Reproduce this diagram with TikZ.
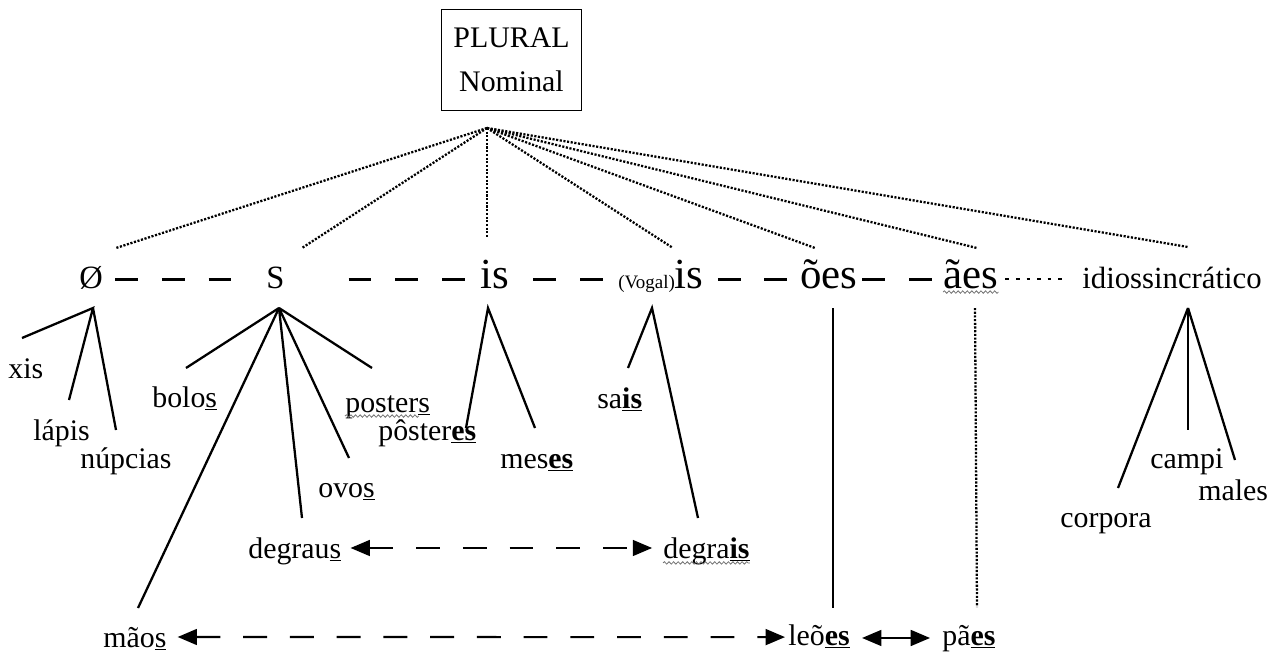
\documentclass[tikz,border=0pt]{standalone}
\usepackage{fontspec}
\setmainfont{Liberation Serif}
\usetikzlibrary{arrows.meta,decorations.pathmorphing}
\newcommand\wsmall{\fontsize{17}{20}\selectfont}
\newcommand\wbig{\fontsize{24.4}{28}\selectfont}
\newcommand\wmid{\fontsize{18.5}{22}\selectfont}
\newcommand\wvog{\fontsize{10.8}{12}\selectfont}
\newcommand\sufb[1]{\underline{\textbf{#1}}}
\newcommand\sufs[1]{\underline{#1}}
\tikzset{
  lbl/.style={inner sep=0pt, anchor=base west, font=\wsmall},
  bigl/.style={inner sep=0pt, anchor=base west, font=\wbig},
  treeline/.style={line width=1.3pt},
  dotline/.style={line width=1.3pt, dash pattern=on 1.2pt off 0.9pt},
  rowdash/.style={line width=1.7pt, dash pattern=on 13pt off 13.6pt},
  rowdot/.style={line width=1.3pt, dash pattern=on 2pt off 4pt},
  arrdash/.style={line width=1.2pt, dash pattern=on 13.6pt off 13pt,
    {Triangle[length=11pt,width=9pt]}-{Triangle[length=11pt,width=9pt]}},
  arrsolid/.style={line width=1.2pt,
    {Triangle[length=11pt,width=9pt]}-{Triangle[length=11pt,width=9pt]}},
  wavy/.style={decorate, decoration={snake, segment length=2.6pt, amplitude=0.7pt},
    line width=0.45pt, black!55},
}
\begin{document}
\begin{tikzpicture}[x=0.02cm,y=-0.02cm]
\useasboundingbox (0,0) rectangle (1277,656);

% root
\node[draw, line width=0.6pt, minimum width=80pt, minimum height=57.8pt,
  inner sep=0pt, align=center, font=\fontsize{17}{25}\selectfont]
  (plural) at (511.5,60) {PLURAL\\Nominal};
\coordinate (top) at (487,128);

% first row
\node[bigl, font=\wmid] (zero) at (79,288) {Ø};
\node[bigl, font=\wmid] (S) at (266,288) {S};
\node[bigl] (is) at (480,288) {is};
\node[bigl] (vis) at (618,288) {{\wvog(Vogal)}is};
\node[bigl] (oes) at (800,288) {ões};
\node[bigl] (aes) at (943,288) {ães};
\node[lbl, font=\fontsize{17.5}{20}\selectfont] (idio) at (1082,288) {idiossincrático};

% ends of the dotted lines from the root
\coordinate (zeroT) at (116,248);
\coordinate (ST) at (302,248);
\coordinate (isT) at (487,237);
\coordinate (visT) at (673,248);
\coordinate (oesT) at (815,248);
\coordinate (aesT) at (977,248);
\coordinate (idioT) at (1188,247);
\foreach \t in {zeroT,ST,isT,visT,oesT,aesT,idioT}
  \draw[dotline] (top) -- (\t);

% dashes between first row items
\draw[rowdash] ([xshift=6.8pt,yshift=5.1pt]zero.base east) -- ([xshift=-18.7pt,yshift=5.1pt]S.base west);
\draw[rowdash] ([xshift=36.3pt,yshift=5.1pt]S.base east) -- ([xshift=-7.9pt,yshift=5.1pt]is.base west);
\draw[rowdash] ([xshift=13.7pt,yshift=5.1pt]is.base east) -- ([xshift=-7.4pt,yshift=5.1pt]vis.base west);
\draw[rowdash] ([xshift=7.9pt,yshift=5.1pt]vis.base east) -- ([xshift=-4pt,yshift=5.1pt]oes.base west);
\draw[rowdash] ([xshift=2.6pt,yshift=5.1pt]oes.base east) -- ([xshift=-6.2pt,yshift=5.1pt]aes.base west);
\draw[rowdot] ([xshift=4pt,yshift=5.1pt]aes.base east) -- ([xshift=-8.5pt,yshift=5.1pt]idio.base west);
\draw[wavy] ([yshift=-2.3pt]aes.base west) -- ([yshift=-2.3pt]aes.base east);

% words
\node[lbl] (xis) at (8,378) {xis};
\node[lbl] (lapis) at (33,440) {lápis};
\node[lbl] (nupcias) at (80,468) {núpcias};
\node[lbl] (bolos) at (152,407) {bolo\sufs{s}};
\node[lbl] (posters) at (345,412) {poster\sufs{s}};
\node[lbl] (posteres) at (378,440) {pôster\sufb{es}};
\node[lbl] (ovos) at (318,497) {ovo\sufs{s}};
\node[lbl] (meses) at (500,468) {mes\sufb{es}};
\node[lbl] (sais) at (597,408) {sa\sufb{is}};
\node[lbl] (degraus) at (248,558) {degrau\sufs{s}};
\node[lbl] (degrais) at (663,558) {degra\sufb{is}};
\node[lbl] (maos) at (103,647) {mão\sufs{s}};
\node[lbl] (leoes) at (788,645) {leõ\sufb{es}};
\node[lbl] (paes) at (942,645) {pã\sufb{es}};
\node[lbl] (campi) at (1150,468) {campi};
\node[lbl] (males) at (1198,500) {males};
\node[lbl] (corpora) at (1060,527) {corpora};

\draw[wavy] ([yshift=-2.3pt]posters.base west) -- ([xshift=-6.6pt,yshift=-2.3pt]posters.base east);
\draw[wavy] ([yshift=-2.8pt]degrais.base west) -- ([yshift=-2.8pt]degrais.base east);

% tree under Ø
\coordinate (zeroA) at (93,308);
\coordinate (xisE) at (22,338);
\coordinate (lapisE) at (69,400);
\coordinate (nupciasE) at (116,430);
\draw[treeline] (xisE) -- (zeroA) -- (lapisE) (zeroA) -- (nupciasE);

% tree under S
\coordinate (SA) at (279,308);
\coordinate (bolosE) at (186,368);
\coordinate (maosE) at (138,608);
\coordinate (degrausE) at (302,518);
\coordinate (ovosE) at (349,458);
\coordinate (postersE) at (372,368);
\foreach \e in {bolosE,maosE,degrausE,ovosE,postersE}
  \draw[treeline] (SA) -- (\e);

% tree under is
\coordinate (isA) at (488,308);
\coordinate (posteresE) at (466,428);
\coordinate (mesesE) at (535,428);
\draw[treeline] (posteresE) -- (isA) -- (mesesE);

% tree under (Vogal)is
\coordinate (visA) at (652,308);
\coordinate (saisE) at (628,368);
\coordinate (degraisE) at (698,518);
\draw[treeline] (saisE) -- (visA) -- (degraisE);

% ões and ães
\coordinate (oesA) at (833,308);
\coordinate (leoesE) at (833,608);
\draw[line width=1.1pt] (oesA) -- (leoesE);
\coordinate (aesA) at (975,308);
\coordinate (paesE) at (977,607);
\draw[dotline] (aesA) -- (paesE);

% tree under idiossincrático
\coordinate (idioA) at (1188,308);
\coordinate (corporaE) at (1118,488);
\coordinate (campiE) at (1188,430);
\coordinate (malesE) at (1235,460);
\foreach \e in {corporaE,campiE,malesE}
  \draw[treeline] (idioA) -- (\e);

% double arrows
\draw[arrdash] ([xshift=5.1pt,yshift=5.7pt]degraus.base east) -- ([xshift=-6.2pt,yshift=5.7pt]degrais.base west);
\draw[arrdash] ([xshift=6.2pt,yshift=5.7pt]maos.base east) -- ([xshift=-1.7pt,yshift=4.5pt]leoes.base west);
\draw[arrsolid] ([xshift=6.8pt,yshift=4pt]leoes.base east) -- ([xshift=-6.8pt,yshift=4pt]paes.base west);
\end{tikzpicture}
\end{document}
